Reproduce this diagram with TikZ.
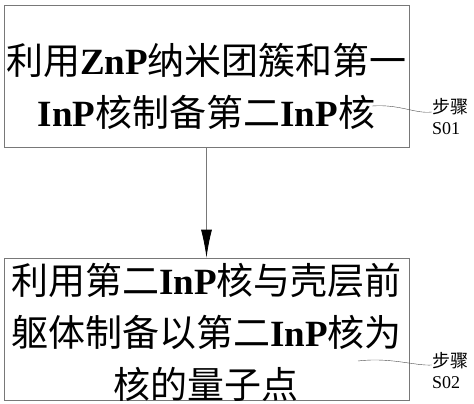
\documentclass[tikz,border=0pt]{standalone}
\usepackage{fontspec}
\setmainfont{Liberation Serif}
\newfontfamily\cjk{Noto Sans CJK SC}
\usetikzlibrary{arrows.meta}
\usetikzlibrary{positioning}
\definecolor{bordo}{RGB}{120,120,120}
\newcommand{\lat}[1]{{\rmfamily\bfseries #1}}
\tikzset{
  passo/.style={draw=bordo, line width=0.8pt, minimum width=405pt, minimum height=142pt},
  testo/.style={align=center, inner sep=0pt, font=\cjk\fontsize{37}{52}\selectfont},
  etich/.style={align=left, inner sep=0pt, font=\fontsize{18}{21}\selectfont},
  filo/.style={line width=0.4pt, black!70}
}
\begin{document}
\begin{tikzpicture}[x=1pt,y=-1pt]
\useasboundingbox (0,0) rectangle (474,404);

% riquadri
\node[passo] (s1) at (206.5,76) {};
\node[passo] (s2) at (206.5,329) {};
\node[testo] (t1) at ([yshift=-10pt]s1.center) {利用\lat{ZnP}纳米团簇和第一\\\lat{InP}核制备第二\lat{InP}核};
\node[testo] (t2) at ([yshift=-3pt]s2.center) {利用第二\lat{InP}核与壳层前\\躯体制备以第二\lat{InP}核为\\核的量子点};

% freccia
\draw[draw=bordo, line width=0.8pt, -{Latex[length=28pt,width=11pt,black]}] (s1.south) -- (s2.north);

% etichette passi
\node[etich] (e1) at (450,117) {{\cjk 步骤}\\S01};
\node[etich] (e2) at (450,371) {{\cjk 步骤}\\S02};
\coordinate (c1) at (372,106);
\coordinate (c2) at (358,361);
\draw[filo] (c1) .. controls (400,104) and (415,114) .. (e1.west |- 0,112);
\draw[filo] (c2) .. controls (390,357) and (415,366) .. (e2.west |- 0,365);

\end{tikzpicture}
\end{document}
